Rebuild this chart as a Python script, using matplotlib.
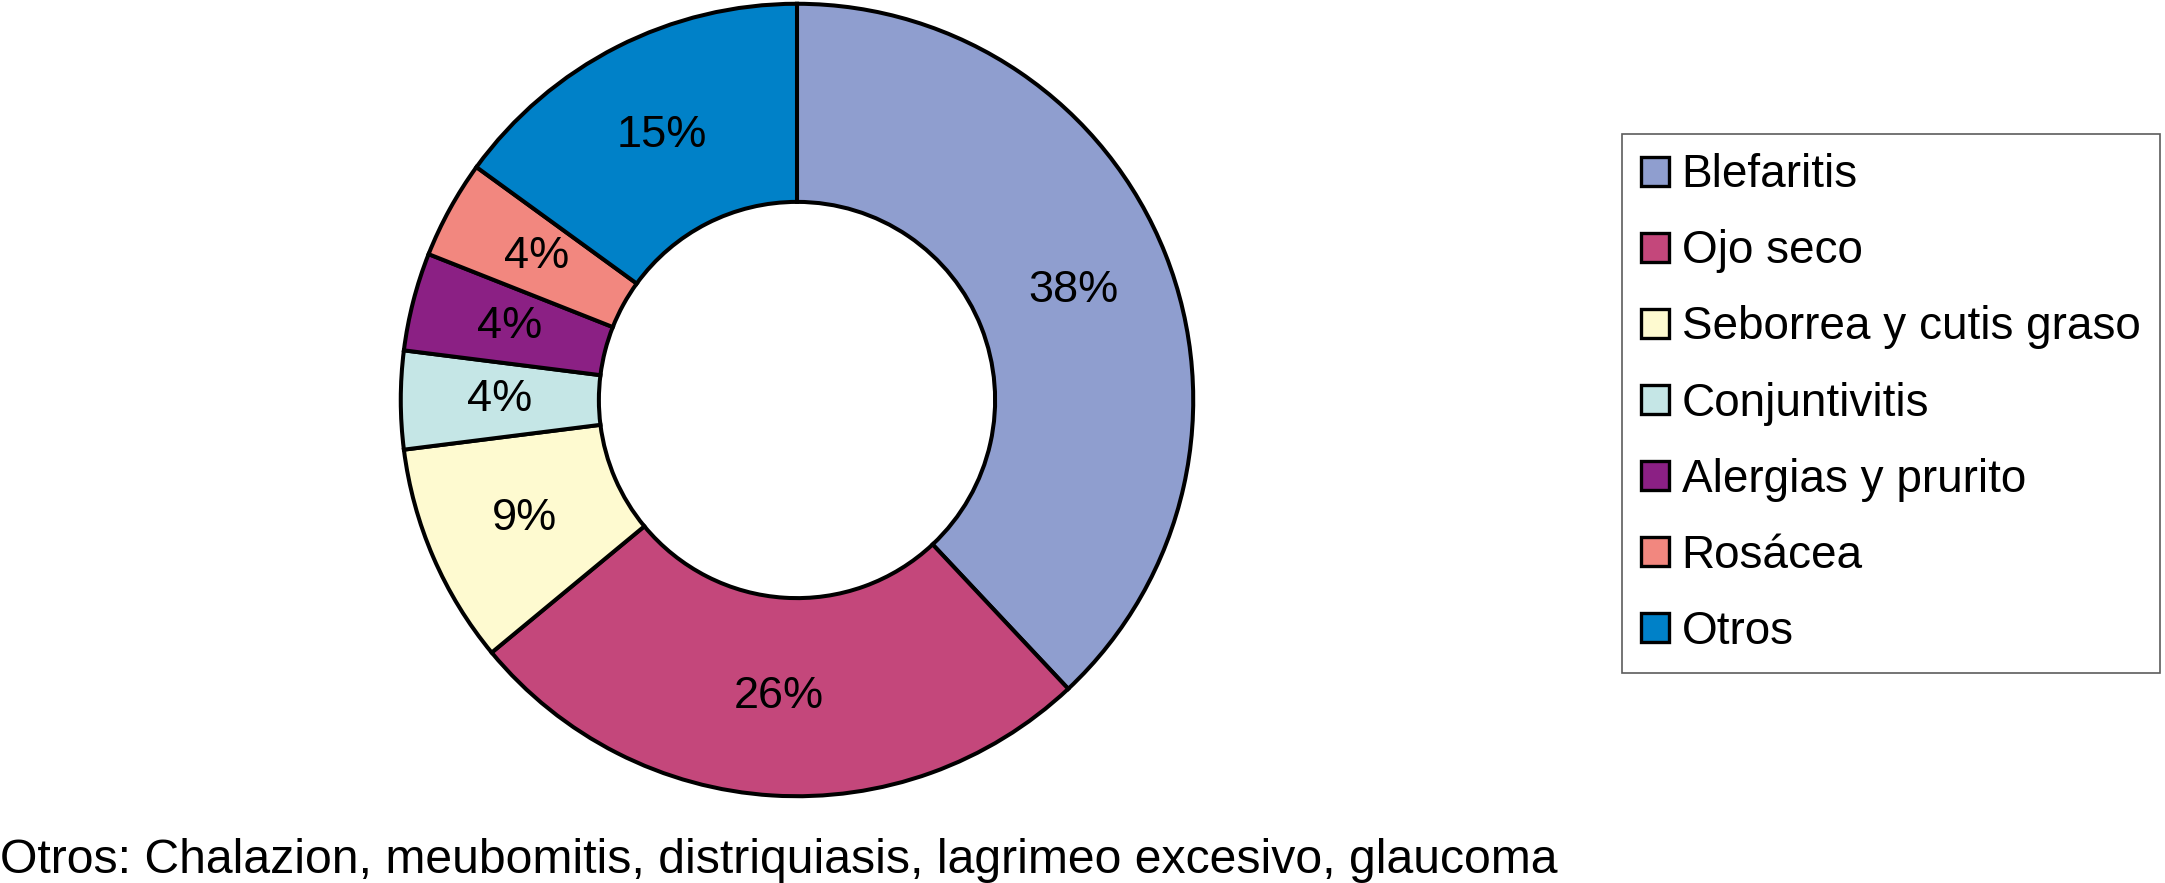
import matplotlib.pyplot as plt

plt.rcParams['font.family'] = ['Liberation Sans', 'DejaVu Sans']

# datos del grafico
categorias = ['Blefaritis', 'Ojo seco', 'Seborrea y cutis graso', 'Conjuntivitis',
              'Alergias y prurito', 'Rosácea', 'Otros']
porcentajes = [38, 26, 9, 4, 4, 4, 15]
colores = ['#8f9ecf', '#c4477b', '#fefad0', '#c5e6e6', '#8b2084', '#f2877f', '#0081c8']
nota = 'Otros: Chalazion, meubomitis, distriquiasis, lagrimeo excesivo, glaucoma'

fig = plt.figure(figsize=(21.65, 8.83), dpi=100)
ax = fig.add_axes([398/2165, 84/883, 798/2165, 798/883])

wedges, texts, autotexts = ax.pie(
    porcentajes, colors=colores, startangle=90, counterclock=False,
    radius=1, autopct='%d%%', pctdistance=0.75,
    wedgeprops=dict(width=0.5, edgecolor='black', linewidth=2.9),
    textprops=dict(fontsize=32.5, color='black'))
ax.set_xlim(-1.007, 1.007)
ax.set_ylim(-1.007, 1.007)
ax.set_aspect('equal')
ax.axis('off')

leg = fig.legend(wedges, categorias, loc='upper left',
                 bbox_to_anchor=(1622/2165, 1 - 134/883), borderaxespad=0,
                 fontsize=33, frameon=True, fancybox=False,
                 handlelength=0.6, handleheight=0.6, handletextpad=0.28,
                 labelspacing=0.7, borderpad=0.42)
leg.get_frame().set_edgecolor('#333333')
leg.get_frame().set_linewidth(1.2)
for h in leg.legend_handles:
    h.set_linewidth(2.4)

fig.text(0.0, 10/883, nota, fontsize=34.7, ha='left', va='baseline')

fig.savefig('out.png', dpi=100, facecolor='white')
